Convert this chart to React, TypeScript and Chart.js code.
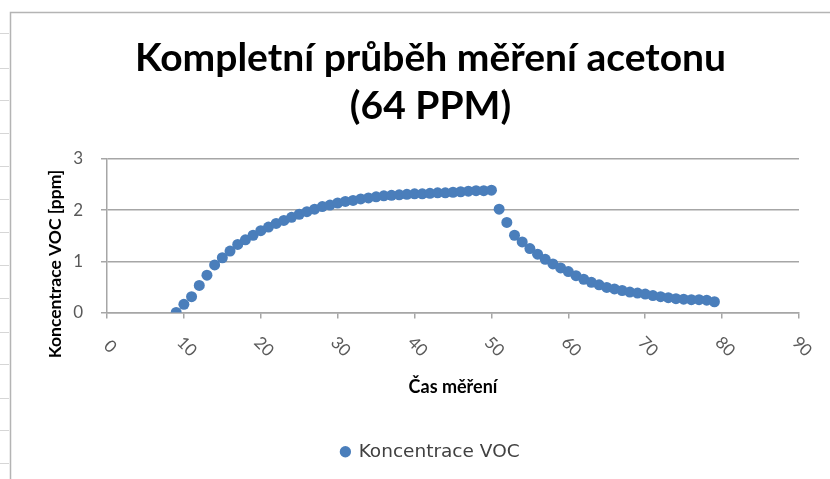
import React, { useEffect, useRef } from "react";
import { Chart, registerables } from "chart.js";

Chart.register(...registerables);

const titleLines = ["Kompletní průběh měření acetonu", "(64 PPM)"];
const seriesName = "Koncentrace VOC";
const xAxisTitle = "Čas měření";
const yAxisTitle = "Koncentrace VOC [ppm]";

const timeValues = [
  9, 10, 11, 12, 13, 14, 15, 16, 17, 18, 19, 20, 21, 22, 23, 24, 25, 26, 27, 28,
  29, 30, 31, 32, 33, 34, 35, 36, 37, 38, 39, 40, 41, 42, 43, 44, 45, 46, 47, 48,
  49, 50, 51, 52, 53, 54, 55, 56, 57, 58, 59, 60, 61, 62, 63, 64, 65, 66, 67, 68,
  69, 70, 71, 72, 73, 74, 75, 76, 77, 78, 79,
];

const vocValues = [
  0.0, 0.16, 0.31, 0.53, 0.73, 0.93, 1.07, 1.2, 1.33, 1.42, 1.51, 1.6, 1.67, 1.74, 1.8, 1.86, 1.92, 1.97, 2.02, 2.07,
  2.1, 2.14, 2.17, 2.19, 2.22, 2.24, 2.26, 2.28, 2.29, 2.3, 2.31, 2.32, 2.32, 2.33, 2.34, 2.34, 2.35, 2.36, 2.37, 2.38,
  2.38, 2.39, 2.02, 1.76, 1.51, 1.38, 1.25, 1.14, 1.04, 0.95, 0.87, 0.8, 0.72, 0.65, 0.59, 0.54, 0.49, 0.46, 0.43, 0.4,
  0.38, 0.36, 0.33, 0.31, 0.29, 0.27, 0.26, 0.25, 0.25, 0.24, 0.21,
];

const xTickValues = [0, 10, 20, 30, 40, 50, 60, 70, 80, 90];
const yTickValues = [0, 1, 2, 3];

const sheetRowLines = [33, 68, 100, 133, 166, 199, 232, 265, 298, 332, 364, 398, 430, 463];

const FONT = "Lato, 'Open Sans', sans-serif";
const LEGEND_FONT = "'DejaVu Sans', sans-serif";
const BLUE = "#4a7ebb";
const GRID = "#a6a6a6";
const TEXT = "#595959";

export default function App() {
  const canvasRef = useRef<HTMLCanvasElement | null>(null);

  useEffect(() => {
    const canvas = canvasRef.current;
    if (!canvas) return;

    const decorPlugin = {
      id: "decor",
      beforeDraw(chart: any) {
        const ctx = chart.ctx;
        ctx.save();
        ctx.strokeStyle = "#d6d6d6";
        ctx.lineWidth = 1;
        for (const y of sheetRowLines) {
          ctx.beginPath();
          ctx.moveTo(0, y + 0.5);
          ctx.lineTo(9, y + 0.5);
          ctx.stroke();
        }
        ctx.strokeStyle = "#b4b4b4";
        ctx.lineWidth = 1.5;
        ctx.beginPath();
        ctx.moveTo(10.5, 479);
        ctx.lineTo(10.5, 12.5);
        ctx.lineTo(830, 12.5);
        ctx.stroke();
        ctx.restore();
      },
      afterDraw(chart: any) {
        const ctx = chart.ctx;
        const xs = chart.scales.x;
        const area = chart.chartArea;
        ctx.save();
        ctx.fillStyle = TEXT;
        ctx.font = `17px ${FONT}`;
        ctx.textAlign = "center";
        ctx.textBaseline = "middle";
        for (const v of xTickValues) {
          const px = xs.getPixelForValue(v);
          ctx.save();
          ctx.translate(px + 3, area.bottom + 34);
          ctx.rotate(Math.PI / 4);
          ctx.fillText(String(v), 0, 0);
          ctx.restore();
        }
        // y axis title
        ctx.fillStyle = "#000";
        ctx.font = `bold 17.5px ${FONT}`;
        ctx.save();
        ctx.translate(55, 264);
        ctx.rotate(-Math.PI / 2);
        ctx.fillText(yAxisTitle, 0, 0);
        ctx.restore();
        ctx.restore();
      },
    };

    const chart = new Chart(canvas, {
      type: "scatter",
      data: {
        datasets: [
          {
            label: seriesName,
            data: timeValues.map((t, i) => ({ x: t, y: vocValues[i] })),
            backgroundColor: BLUE,
            borderColor: BLUE,
            pointRadius: 5.5,
            pointHoverRadius: 5.5,
            borderWidth: 0,
          },
        ],
      },
      options: {
        animation: false,
        responsive: false,
        events: [],
        layout: { padding: { left: 62, right: 31, top: 0, bottom: 8 } },
        plugins: {
          tooltip: { enabled: false },
          title: {
            display: true,
            text: titleLines,
            color: "#000",
            font: { family: FONT, size: 39, weight: "bold", lineHeight: 48 / 39 },
            padding: { top: 34, bottom: 29 },
          },
          legend: {
            display: true,
            position: "bottom",
            labels: {
              usePointStyle: true,
              pointStyle: "circle",
              boxWidth: 8,
              boxHeight: 8,
              color: "#404040",
              padding: 10,
              font: { family: LEGEND_FONT, size: 18.5 },
            },
          },
        },
        scales: {
          x: {
            type: "linear",
            min: 0,
            max: 90,
            afterBuildTicks: (s: any) => {
              s.ticks = xTickValues.map((v) => ({ value: v }));
            },
            afterFit: (s: any) => {
              s.height = 120;
            },
            ticks: { display: false },
            grid: {
              drawOnChartArea: false,
              drawTicks: true,
              tickLength: 6,
              color: GRID,
              lineWidth: 1.5,
            },
            border: { display: true, color: GRID, width: 1.5 },
            title: {
              display: true,
              text: xAxisTitle,
              color: "#000",
              font: { family: FONT, size: 18, weight: "bold" },
              padding: { top: 0, bottom: 35 },
            },
          },
          y: {
            type: "linear",
            min: 0,
            max: 3,
            afterBuildTicks: (s: any) => {
              s.ticks = yTickValues.map((v) => ({ value: v }));
            },
            afterFit: (s: any) => {
              s.width = 45;
            },
            ticks: {
              color: TEXT,
              font: { family: FONT, size: 17 },
              padding: 18,
            },
            grid: {
              drawOnChartArea: true,
              drawTicks: true,
              tickLength: 6,
              color: GRID,
              lineWidth: 1.5,
            },
            border: { display: true, color: GRID, width: 1.5 },
          },
        },
      },
      plugins: [decorPlugin],
    } as any);

    return () => chart.destroy();
  }, []);

  return (
    <div style={{ position: "absolute", left: 0, top: 0, width: 830, height: 479, background: "#fff" }}>
      <canvas ref={canvasRef} width={830} height={479} style={{ width: 830, height: 479, display: "block" }} />
    </div>
  );
}
